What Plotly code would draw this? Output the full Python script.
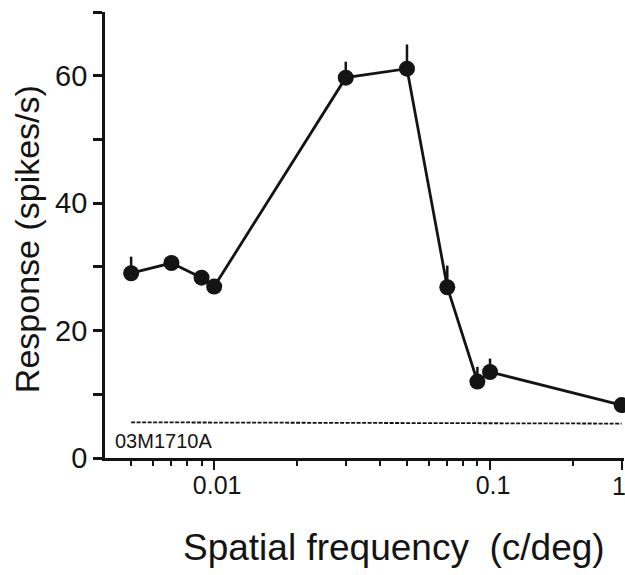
import math
import plotly.graph_objects as go

# Data
freq = [0.005, 0.007, 0.009, 0.01, 0.03, 0.05, 0.07, 0.09, 0.1, 0.3]
resp = [29.0, 30.6, 28.3, 26.9, 59.7, 61.1, 26.8, 12.0, 13.5, 8.3]
err_up = [2.6, 0.8, 0.8, 0.8, 2.5, 3.8, 3.4, 2.3, 2.1, 0.8]
baseline_x = [0.005, 0.3]
baseline_y = [5.6, 5.4]
x_tickvals = [0.01, 0.1, 0.3]
x_ticktext = ["0.01", "0.1", ""]
last_tick_label = "1"
y_tickvals = [0, 10, 20, 30, 40, 50, 60, 70]
y_ticktext = ["0", "", "20", "", "40", "", "60", ""]
cell_label = "03M1710A"

INK = "#141414"
FONT = "Liberation Sans, Arial, sans-serif"

fig = go.Figure()

fig.add_trace(go.Scatter(
    x=baseline_x, y=baseline_y, mode="lines",
    line=dict(color=INK, width=1.8, dash="4px,1.5px"),
    hoverinfo="skip", showlegend=False, cliponaxis=False,
))

fig.add_trace(go.Scatter(
    x=freq, y=resp, mode="lines+markers",
    line=dict(color=INK, width=2.8),
    marker=dict(color=INK, size=16, line=dict(width=0)),
    error_y=dict(type="data", symmetric=False, array=err_up,
                 arrayminus=[0] * len(err_up), color=INK,
                 thickness=2.5, width=0),
    showlegend=False, cliponaxis=False,
))

minor_vals = [m * 10 ** e for e in (-3, -2, -1) for m in range(2, 10)]
minor_vals = [v for v in minor_vals if 0.0041 < v < 0.305 and v not in x_tickvals]

fig.update_xaxes(
    type="log",
    range=[math.log10(0.00402), math.log10(0.306)],
    tickmode="array", tickvals=x_tickvals, ticktext=x_ticktext,
    ticks="outside", ticklen=9, tickwidth=2, tickcolor=INK,
    showline=True, linewidth=2.5, linecolor=INK,
    showgrid=False, zeroline=False,
    tickfont=dict(family=FONT, size=25, color=INK),
    ticklabelstandoff=-6,
    ticklabelshift=3,
    automargin=False,
    minor=dict(tickmode="array", tickvals=minor_vals, ticks="outside",
               ticklen=5, tickwidth=2, tickcolor=INK, showgrid=False),
)

fig.update_yaxes(
    range=[0, 70],
    tickmode="array", tickvals=y_tickvals, ticktext=y_ticktext,
    ticks="outside", ticklen=9, tickwidth=2.5, tickcolor=INK,
    showline=True, linewidth=2.8, linecolor=INK,
    showgrid=False, zeroline=False,
    automargin=False,
    tickfont=dict(family=FONT, size=29, color=INK),
)

# last x tick label kept inside the page edge
fig.add_annotation(
    x=math.log10(x_tickvals[-1]), xref="x", y=-0.062, yref="paper",
    text=last_tick_label, showarrow=False, xanchor="center", yanchor="middle",
    xshift=-3, font=dict(family=FONT, size=25, color=INK),
)

fig.add_annotation(
    x=0.015, xref="paper", y=2.6, yref="y",
    text=cell_label, showarrow=False, xanchor="left", yanchor="middle",
    font=dict(family=FONT, size=20, color=INK),
)

fig.add_annotation(
    x=0.556, xref="paper", y=-0.2, yref="paper",
    text="Spatial frequency\u00a0 (c/deg)", showarrow=False,
    xanchor="center", yanchor="middle",
    font=dict(family=FONT, size=37, color=INK),
)

fig.add_annotation(
    x=-0.149, xref="paper", y=0.49, yref="paper",
    text="Response (spikes/s)", showarrow=False, textangle=-90,
    xanchor="center", yanchor="middle",
    font=dict(family=FONT, size=34, color=INK),
)

fig.update_layout(
    width=625, height=575,
    margin=dict(l=105, r=1, t=12, b=117),
    paper_bgcolor="white", plot_bgcolor="white",
)

fig.write_html("out.html")
